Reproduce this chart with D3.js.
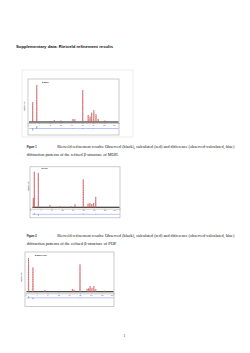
<!DOCTYPE html>
<html><head><meta charset="utf-8">
<script src="https://cdn.jsdelivr.net/npm/d3@7"></script>
<style>
html,body{margin:0;padding:0;background:#fff;}
svg{display:block;}
</style></head><body>
<script>
// ---------------- data ----------------
const tickValues = [0, 4, 8, 12, 16, 20, 24, 28];
const axisTitle = "2θ/°";
const yAxisTitle = "Intensity (a.u.)";

const mohLabel = "β-MOH";
const mohPos  = [1.7, 3.2, 9.7, 12.1, 16.6, 17.3, 20.2, 22.2, 22.9, 23.5, 24.3, 25.1, 25.9, 28.4];
const mohObs  = [51, 95, 5, 4, 8, 7, 82, 18, 14, 24, 30, 20, 8, 4];
const mohDiff = [-5, 6, 0, 0, 1, 0, -2, 1, 0, 1, -1, 0, 0, 0];

const popLabel = "β-POP";
const popPos  = [1.25, 1.62, 3.12, 7.5, 11.3, 15.4, 16.9, 20.0, 21.8, 22.5, 23.2, 23.9, 24.7];
const popObs  = [26, 98, 95, 6, 3, 3, 8, 77, 10, 12, 9, 12, 29];
const popDiff = [1, 3, -4, 0, 0, 0, 0, 2, 0, 0, 0, 0, 1];

const mixLabel = "β-MOH-POP";
const mixPos  = [1.07, 2.7, 7.1, 17.2, 17.8, 20.0, 22.6, 23.2, 23.7, 24.4, 25.1, 25.8, 29.0];
const mixObs  = [97, 70, 5, 8, 6, 79, 8, 10, 16, 11, 16, 7, 3];
const mixDiff = [4, -4, 0, 0, 0, 1, 0, 0, 0, 0, 0, 0, 0];

const pageTitle = "Supplementary data: Rietveld refinement results";
const figLabels = ["Figure 1", "Figure 2"];
const captionLine1 = "Rietveld refinement results: Observed (black), calculated (red) and difference (observed-calculated, blue)";
const captionLine2 = ["diffraction patterns of the refined β-structure of MOH.",
                      "diffraction patterns of the refined β-structure of POP."];
const pageNumber = "1";

// ---------------- drawing ----------------
const W = 250, H = 353;
const svg = d3.select("body").append("svg").attr("width", W).attr("height", H);
svg.append("rect").attr("width", W).attr("height", H).attr("fill", "#fff");

svg.append("text").attr("x", 16).attr("y", 48.3)
  .attr("font-family", "Liberation Sans, Arial, sans-serif").attr("font-weight", "bold")
  .attr("font-size", 3.7).attr("textLength", 97).attr("lengthAdjust", "spacingAndGlyphs")
  .attr("fill", "#111").text(pageTitle);

function caption(i, y1, y2, w2) {
  svg.append("text").attr("x", 26.7).attr("y", y1 + 1.1)
    .attr("font-family", "Liberation Sans, Arial, sans-serif").attr("font-weight", "bold")
    .attr("font-size", 3.0).attr("textLength", 10).attr("lengthAdjust", "spacingAndGlyphs")
    .attr("fill", "#111").text(figLabels[i]);
  svg.append("text").attr("x", 57.3).attr("y", y1 + 1.2)
    .attr("font-family", "Liberation Serif, Times New Roman, serif")
    .attr("font-size", 3.6).attr("textLength", 177).attr("lengthAdjust", "spacingAndGlyphs")
    .attr("fill", "#111").text(captionLine1);
  svg.append("text").attr("x", 26.7).attr("y", y2 + 1.2)
    .attr("font-family", "Liberation Serif, Times New Roman, serif")
    .attr("font-size", 3.6).attr("textLength", w2).attr("lengthAdjust", "spacingAndGlyphs")
    .attr("fill", "#111").text(captionLine2[i]);
}
caption(0, 146.5, 154.4, 92);
caption(1, 235.4, 243.7, 90);

svg.append("text").attr("x", 124.3).attr("y", 337.2).attr("text-anchor", "middle")
  .attr("font-family", "Liberation Serif, Times New Roman, serif")
  .attr("font-size", 3.6).attr("fill", "#111").text(pageNumber);

function drawChart(cfg, pos, obs, diff, label) {
  const g = svg.append("g");
  if (cfg.outer) {
    g.append("rect").attr("x", cfg.outer[0]).attr("y", cfg.outer[1])
      .attr("width", cfg.outer[2]).attr("height", cfg.outer[3])
      .attr("fill", "none").attr("stroke", "#e2e2e2").attr("stroke-width", 0.6);
  }
  g.append("rect").attr("x", cfg.frame[0]).attr("y", cfg.frame[1])
    .attr("width", cfg.frame[2]).attr("height", cfg.frame[3])
    .attr("fill", "none").attr("stroke", "#b4b4b4").attr("stroke-width", 0.7);

  const x = d3.scaleLinear().domain(cfg.xDomain).range(cfg.xRange);
  const y = d3.scaleLinear().domain([0, 100]).range([cfg.y0, cfg.y100]);
  const k = (cfg.y0 - cfg.y100) / 100;

  // x axis
  const ax = g.append("g").attr("transform", `translate(0,${cfg.axisY})`)
    .call(d3.axisBottom(x).tickValues(tickValues).tickSize(0.8).tickPadding(0.4)
      .tickFormat(d3.format("d")));
  ax.select(".domain").attr("stroke", "#666").attr("stroke-width", 0.35);
  ax.selectAll(".tick line").attr("stroke", "#666").attr("stroke-width", 0.35);
  ax.selectAll(".tick text").attr("font-size", 1.9).attr("fill", "#555")
    .attr("font-family", "Liberation Sans, Arial, sans-serif");
  g.append("text").attr("x", x(32)).attr("y", cfg.axisY + 2.6).attr("text-anchor", "middle")
    .attr("font-size", 1.9).attr("fill", "#555")
    .attr("font-family", "Liberation Sans, Arial, sans-serif").text(axisTitle);

  // observed background (dense black markers)
  g.append("line").attr("x1", cfg.bgStart).attr("x2", cfg.xRange[1] - 0.5)
    .attr("y1", y(0)).attr("y2", y(0))
    .attr("stroke", "#111").attr("stroke-width", 1.1);

  const hw = 0.09;
  const line = d3.line().x(d => x(d[0])).y(d => y(d[1]));
  pos.forEach((p, i) => {
    const pts = [[p - hw, 0], [p, obs[i]], [p + hw, 0]];
    g.append("path").attr("d", line(pts)).attr("fill", "#f6c4c4")
      .attr("stroke", "#e04a4a").attr("stroke-width", 0.45);
    g.append("path").attr("d", line(pts)).attr("fill", "none")
      .attr("stroke", "#333").attr("stroke-width", 0.4).attr("stroke-dasharray", "0.4,2");
  });

  // difference curve
  g.append("line").attr("x1", cfg.bgStart).attr("x2", cfg.xRange[1] - 0.5)
    .attr("y1", cfg.diffY).attr("y2", cfg.diffY)
    .attr("stroke", "#6f8fe6").attr("stroke-width", 0.5);
  pos.forEach((p, i) => {
    if (diff[i] !== 0) {
      g.append("line").attr("x1", x(p)).attr("x2", x(p))
        .attr("y1", cfg.diffY).attr("y2", cfg.diffY - diff[i] * k)
        .attr("stroke", "#4f73e0").attr("stroke-width", 0.7);
    }
  });

  g.append("text").attr("x", cfg.label[0]).attr("y", cfg.label[1] + 0.7)
    .attr("font-size", 2.1).attr("font-weight", "bold").attr("fill", "#222")
    .attr("font-family", "Liberation Sans, Arial, sans-serif").text(label);

  g.append("text").attr("transform", `translate(${cfg.ylab[0]},${cfg.ylab[1]}) rotate(-90)`)
    .attr("text-anchor", "middle").attr("font-size", 1.5).attr("fill", "#444")
    .attr("font-family", "Liberation Sans, Arial, sans-serif").text(yAxisTitle);
}

drawChart({
  outer: [22, 70, 111, 67], frame: [28, 79, 91, 56],
  xDomain: [0, 33.6], xRange: [28.1, 119], y0: 122, y100: 83,
  axisY: 123, diffY: 128.5, bgStart: 29, label: [42, 82.5], ylab: [24.8, 106]
}, mohPos, mohObs, mohDiff, mohLabel);

drawChart({
  frame: [30, 166.8, 90, 51],
  xDomain: [0, 33.8], xRange: [30, 120], y0: 207.3, y100: 171,
  axisY: 208.7, diffY: 214.3, bgStart: 32.5, label: [41.5, 168.6], ylab: [29.3, 186]
}, popPos, popObs, popDiff, popLabel);

drawChart({
  frame: [25, 252, 89, 54.5],
  xDomain: [0, 32.5], xRange: [25.6, 114], y0: 291.7, y100: 257,
  axisY: 293.3, diffY: 297.8, bgStart: 26.5, label: [35, 255.3], ylab: [22.3, 277]
}, mixPos, mixObs, mixDiff, mixLabel);
</script>
</body></html>
